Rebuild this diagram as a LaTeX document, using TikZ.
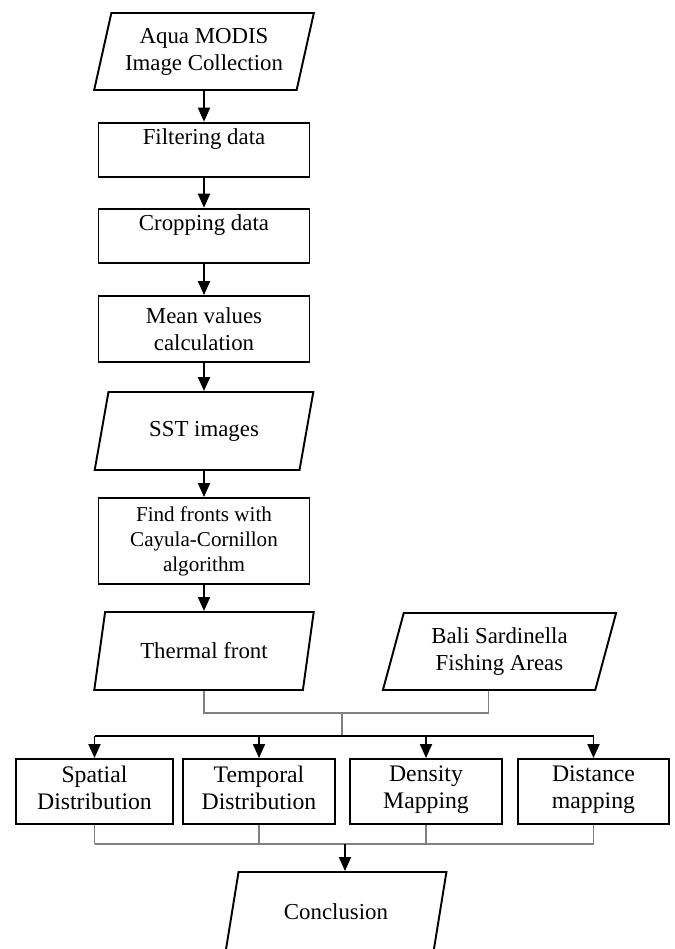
\documentclass[tikz,border=0pt]{standalone}
\usepackage{fontspec}
\setmainfont{Liberation Serif}
\usetikzlibrary{shapes.geometric,arrows.meta,calc}

\tikzset{%
  % Specifications for style of nodes:
         stepbox/.style = {rectangle, draw = black, line width=1.1pt, minimum width=4.22cm, align=center, font=\fontsize{13}{15.4}\selectfont},
         databox/.style = {trapezium, trapezium left angle=76, trapezium right angle=104, trapezium stretches=true, draw = black, line width=1.1pt, minimum width=4.4cm, minimum height=1.56cm, align=center, inner xsep=0pt, font=\fontsize{13}{15.4}\selectfont},
         outbox/.style  = {rectangle, draw = black, line width=1.1pt, minimum height=1.3cm, align=center, font=\fontsize{13.5}{15.4}\selectfont, execute at begin node=\strut, execute at end node=\strut},
         flow/.style    = {-{Triangle[length=0.28cm,width=0.24cm]}, line width=1.1pt},
         joint/.style   = {line width=0.6pt, draw=gray},
}

\begin{document}
\begin{tikzpicture}
    \useasboundingbox (0,0) rectangle (13.5,-18.98);

    % Draw nodes
    \node (aqua)     [databox, minimum height=1.54cm]            at (4.08,-1.03)  {Aqua MODIS\\Image Collection};
    \node (filter)   [stepbox, minimum height=1.04cm]            at (4.08,-3.00)  {Filtering data\\~};
    \node (crop)     [stepbox, minimum height=1.04cm]            at (4.08,-4.72)  {Cropping data\\~};
    \node (mean)     [stepbox, minimum height=1.32cm]            at (4.08,-6.58)  {Mean values\\calculation};
    \node (sst)      [databox]                                   at (4.08,-8.62)  {SST images};
    \node (find)     [stepbox, minimum height=1.72cm, font=\fontsize{12}{14.2}\selectfont]
                                                                 at (4.08,-10.82) {Find fronts with\\Cayula-Cornillon\\algorithm};
    \node (thermal)  [databox]                                   at (4.08,-13.02) {Thermal front};
    \node (bali)     [databox, minimum width=4.7cm, minimum height=1.54cm]
                                                                 at (9.99,-13.03) {Bali Sardinella\\Fishing Areas};

    \node (spatial)  [outbox, minimum width=3.14cm]              at (1.89,-15.83)  {Spatial\\Distribution};
    \node (temporal) [outbox, minimum width=3.04cm]              at (5.18,-15.83)  {Temporal\\Distribution};
    \node (density)  [outbox, minimum width=3.04cm]              at (8.52,-15.83)  {Density\\Mapping};
    \node (distance) [outbox, minimum width=3.02cm]              at (11.87,-15.83) {Distance\\mapping};
    \node (concl)    [databox, minimum width=4.42cm, minimum height=1.6cm]
                                                                 at (6.72,-18.24)  {Conclusion};

    \coordinate (merge) at (6.84,-14.26);
    \coordinate (split) at (6.84,-14.72);
    \coordinate (gather) at (6.90,-16.88);
    \coordinate (baliout) at ($(bali.bottom left corner)!0.5!(bali.bottom right corner)$);

    % Draw arrows
    \draw[flow]    (aqua.south) -- (filter);
    \draw[flow]  (filter) -- (crop);
    \draw[flow]    (crop) -- (mean);
    \draw[flow]    (mean) -- (sst.north);
    \draw[flow]     (sst.south) -- (find);
    \draw[flow]    (find) -- (thermal.north);

    \draw[joint]   (thermal.south) -- (thermal.south |- merge) -- (baliout |- merge) -- (baliout);
    \draw[joint]   (merge) -- (split);

    \draw[line width=1.1pt] (spatial.north |- split) -- (distance.north |- split);
    \foreach \out in {spatial, temporal, density, distance}
        \draw[flow] (\out.north |- split) -- (\out.north);

    \foreach \out in {spatial, temporal, density, distance}
        \draw[joint] (\out.south) -- (\out.south |- gather);
    \draw[joint]   (spatial.south |- gather) -- (distance.south |- gather);
    \draw[flow]    (gather) -- (gather |- concl.north);

\end{tikzpicture}
\end{document}
